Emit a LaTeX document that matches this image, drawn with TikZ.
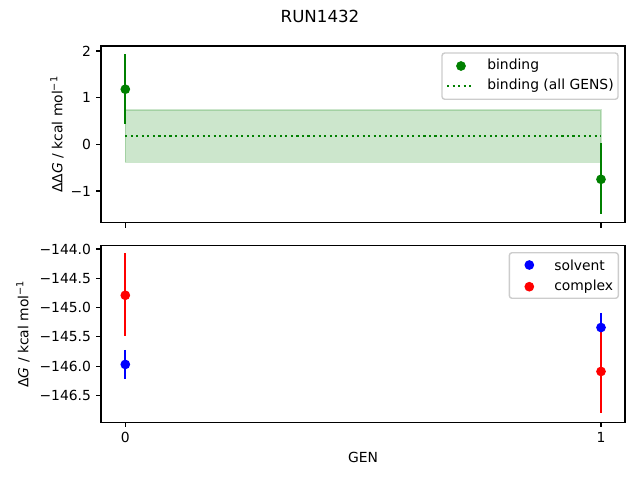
\documentclass[tikz,border=0pt]{standalone}
\usepackage{fontspec}
\setmainfont{DejaVu Sans}
\definecolor{mplgreen}{RGB}{0,128,0}
\definecolor{mplblue}{RGB}{0,0,255}
\definecolor{mplred}{RGB}{255,0,0}
\tikzset{
  axframe/.style={line width=0.8pt},
  tickmark/.style={line width=0.8pt},
  errbar/.style={line width=1.5pt},
  datapt/.style={circle, fill, inner sep=0pt, minimum size=7pt},
  lbl/.style={inner sep=0pt, font=\fontsize{10}{12}\selectfont},
  legendbox/.style={draw=black!20, fill=white, fill opacity=0.8, rounded corners=2pt, line width=1pt},
  avgline/.style={line width=1.5pt, dash pattern=on 1.5pt off 2.475pt},
}
\begin{document}
\begin{tikzpicture}[x=0.72pt, y=-0.72pt]
\useasboundingbox (0,0) rectangle (640,480);
\node[lbl, font=\fontsize{12}{14}\selectfont] (title) at (320,16) {RUN1432};
\begin{scope}[shift={(0,144.3)}, y=33.6pt]
  \fill[mplgreen, opacity=0.2] (125.3,-0.386) rectangle (601,0.735);
  \draw[mplgreen, opacity=0.2, line width=1pt] (125.3,-0.386) rectangle (601,0.735);
  \draw[avgline, mplgreen] (125.3,0.178) -- (601,0.178);
  \draw[errbar, mplgreen] (125.3,0.435) -- (125.3,1.93);
  \draw[errbar, mplgreen] (601,0.02) -- (601,-1.49);
  \node[datapt, mplgreen] (bind0) at (125.3,1.18) {};
  \node[datapt, mplgreen] (bind1) at (601,-0.75) {};
  \draw[axframe] (101,-1.68) rectangle (625,2.106);
  \foreach \v/\t [count=\i] in {-1/−1,0/0,1/1,2/2} {
    \draw[tickmark] (101,\v) -- ++(-3.5pt,0pt);
    \node[lbl, anchor=east, xshift=-7pt] (ytop\i) at (101,\v) {\t};
  }
  \foreach \x in {125.3,601}
    \draw[tickmark] (\x,-1.68) -- ++(0pt,-3.5pt);
\end{scope}
\node[lbl, rotate=90] (ylabtop) at (57,134.3) {ΔΔ\textit{G} / kcal mol\textsuperscript{−1}};
\draw[legendbox] (442,53) rectangle (618,99.3);
\node[datapt, mplgreen] (lgbind) at (461,66) {};
\node[lbl, anchor=west] (lgbindtxt) at (487,66) {binding};
\draw[avgline, mplgreen] (447,86) -- (474,86);
\node[lbl, anchor=west] (lgalltxt) at (487,86) {binding (all GENS)};
\begin{scope}[shift={(0,249)}, y=42.19pt]
  \draw[errbar, mplblue] (125.3,-1.72) -- (125.3,-2.21);
  \draw[errbar, mplblue] (601,-1.09) -- (601,-1.59);
  \draw[errbar, mplred] (125.3,-0.07) -- (125.3,-1.48);
  \draw[errbar, mplred] (601,-1.35) -- (601,-2.80);
  \node[datapt, mplred] (cplx0) at (125.3,-0.79) {};
  \node[datapt, mplred] (cplx1) at (601,-2.09) {};
  \node[datapt, mplblue] (solv0) at (125.3,-1.97) {};
  \node[datapt, mplblue] (solv1) at (601,-1.34) {};
  \draw[axframe] (101,-2.957) rectangle (625,0.056);
  \foreach \v/\t [count=\i] in {0/−144.0,-0.5/−144.5,-1/−145.0,-1.5/−145.5,-2/−146.0,-2.5/−146.5} {
    \draw[tickmark] (101,\v) -- ++(-3.5pt,0pt);
    \node[lbl, anchor=east, xshift=-7pt] (ybot\i) at (101,\v) {\t};
  }
  \foreach \x/\t [count=\i] in {125.3/0,601/1} {
    \draw[tickmark] (\x,-2.957) -- ++(0pt,-3.5pt);
    \node[lbl, anchor=north, yshift=-7pt] (xbot\i) at (\x,-2.957) {\t};
  }
\end{scope}
\node[lbl, rotate=90] (ylabbot) at (23,334) {Δ\textit{G} / kcal mol\textsuperscript{−1}};
\node[lbl] (xlab) at (363,457) {GEN};
\draw[legendbox] (509.3,252.7) rectangle (618.3,298.3);
\node[datapt, mplblue] (lgsolv) at (529.3,265) {};
\node[lbl, anchor=west] (lgsolvtxt) at (554,265) {solvent};
\node[datapt, mplred] (lgcplx) at (529.3,286.7) {};
\node[lbl, anchor=west] (lgcplxtxt) at (554,286.7) {complex};
\end{tikzpicture}
\end{document}
